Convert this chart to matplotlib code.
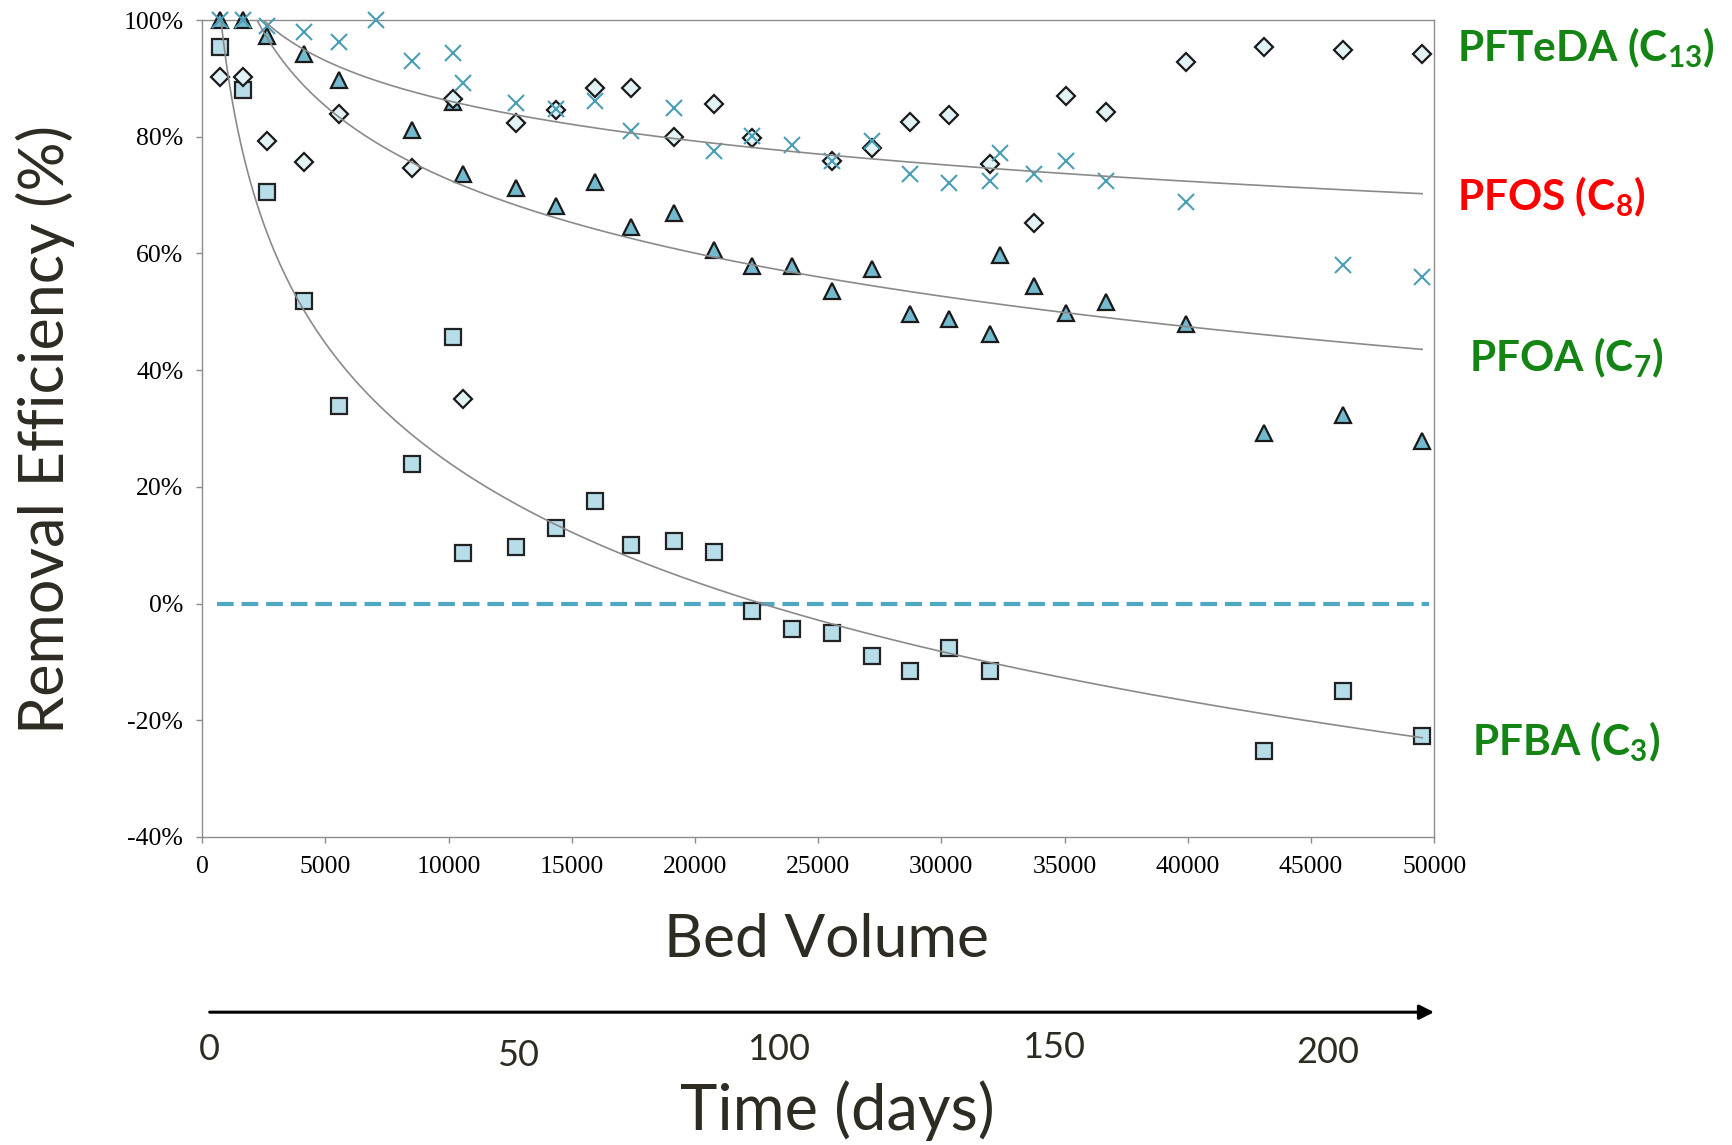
"""Removal efficiency vs bed volume for four PFAS."""

import matplotlib

matplotlib.use("Agg")
import matplotlib.pyplot as plt
import numpy as np

# sampling points (bed volumes) -- shared by most series
bed_volume = [717, 1660, 2650, 4130, 5560, 8520, 10180, 10580, 12740, 14350,
              15960, 17400, 19150, 20760, 22330, 23950, 25560, 27170, 28740,
              30310, 31970, 43090, 46280, 49510]
pfba = [95.3, 88.0, 70.6, 51.9, 33.9, 23.9, 45.6, 8.7, 9.7, 12.9,
        17.6, 10.0, 10.8, 8.9, -1.3, -4.4, -5.1, -8.9, -11.6,
        -7.6, -11.6, -25.2, -15.0, -22.7]

pfoa_bv = [717, 1660, 2650, 4130, 5560, 8520, 10180, 10580, 12740, 14350,
           15960, 17400, 19150, 20760, 22330, 23950, 25560, 27170, 28740,
           30310, 31970, 32380, 33770, 35070, 36680, 39910, 43090, 46280, 49510]
pfoa = [100, 100, 97.3, 94.1, 89.8, 81.2, 86.0, 73.7, 71.2, 68.2,
        72.3, 64.6, 66.9, 60.6, 57.8, 57.8, 53.6, 57.4, 49.6,
        48.7, 46.2, 59.7, 54.5, 49.8, 51.7, 47.9, 29.2, 32.4, 27.8]

pfteda_bv = [717, 1660, 2650, 4130, 5560, 8520, 10180, 10580, 12740, 14350,
             15960, 17400, 19150, 20760, 22330, 25560, 27170, 28740, 30310,
             31970, 33770, 35070, 36680, 39910, 43090, 46280, 49510]
pfteda = [90.2, 90.3, 79.2, 75.6, 83.9, 74.6, 86.4, 35.0, 82.4, 84.5,
          88.4, 88.3, 79.9, 85.6, 79.7, 75.8, 78.0, 82.6, 83.7,
          75.4, 65.2, 86.9, 84.3, 92.8, 95.3, 94.9, 94.1]

pfos_bv = [717, 1660, 2650, 4130, 5560, 7040, 8520, 10180, 10580, 12740,
           14350, 15960, 17400, 19150, 20760, 22330, 23950, 25560, 27170,
           28740, 30310, 31970, 32380, 33770, 35070, 36680, 39910, 46280, 49510]
pfos = [100, 100, 98.9, 97.9, 96.2, 100, 93.0, 94.3, 89.2, 85.8,
        84.8, 86.2, 80.9, 85.0, 77.5, 80.1, 78.6, 75.9, 79.2,
        73.7, 72.0, 72.5, 77.3, 73.7, 75.8, 72.5, 68.8, 58.1, 55.9]

# logarithmic trendlines y = a + b*ln(x)
trend_upper = (177.8, -9.95)
trend_pfoa = (240.3, -18.2)
trend_pfba = (295.9, -29.5)

y_ticks = [100, 80, 60, 40, 20, 0, -20, -40]
x_ticks = list(range(0, 50001, 5000))
time_days = ["0", "50", "100", "150", "200"]

text_color = "#2e2c22"
green = "#148414"

plt.rcParams["mathtext.fontset"] = "custom"
plt.rcParams["mathtext.rm"] = "Lato:bold"
plt.rcParams["mathtext.bf"] = "Lato:bold"

fig = plt.figure(figsize=(17.33, 11.45), dpi=100)
ax = fig.add_axes([0.1166, 0.269, 0.711, 0.7135])

ax.axhline(0, xmin=0.012, xmax=0.996, color="#4fa8c2", lw=3.0,
           dashes=(4, 1.9), zorder=1)

mk = dict(linestyle="none", clip_on=False)
ax.plot(bed_volume, pfba, marker="s", ms=11, mfc="#b7dde8", mec="#222222",
        mew=1.6, zorder=3, **mk)
ax.plot(pfoa_bv, pfoa, marker="^", ms=11.5, mfc="#73bace", mec="#1a1a1a",
        mew=1.6, zorder=4, **mk)
ax.plot(pfteda_bv, pfteda, marker="D", ms=9.5, mfc="#e2f3f8", mec="#1a1a1a",
        mew=1.6, zorder=5, **mk)
ax.plot(pfos_bv, pfos, marker="x", ms=11.5, mec="#4a9eb6", mew=1.5,
        zorder=6, **mk)

xs = np.linspace(bed_volume[0], bed_volume[-1], 400)
for a, b in (trend_upper, trend_pfoa, trend_pfba):
    ax.plot(xs, a + b * np.log(xs), color="#8a8a8a", lw=1.2, zorder=7)

ax.set_xlim(0, 50000)
ax.set_ylim(-40, 100)
ax.set_xticks(x_ticks)
ax.set_xticklabels([str(v) for v in x_ticks])
ax.set_yticks(y_ticks)
ax.set_yticklabels([f"{v}%" for v in y_ticks])
for s in ax.spines.values():
    s.set_color("#8c8c8c")
    s.set_linewidth(1.0)
ax.tick_params(direction="out", length=4.5, width=1.0, color="#8c8c8c",
               labelsize=18.5, pad=9)
for lab in ax.get_xticklabels() + ax.get_yticklabels():
    lab.set_fontfamily("Liberation Serif")
    lab.set_color("black")

fig.text(0.026, 0.625, "Removal Efficiency (%)", rotation=90, ha="center",
         va="center", fontsize=44, family="Lato", color=text_color)
fig.text(0.477, 0.179, "Bed Volume", ha="center", va="center", fontsize=43.5,
         family="Lato", color=text_color)
fig.text(0.483, 0.030, "Time (days)", ha="center", va="center", fontsize=45.5,
         family="Lato", color=text_color)

ax.annotate("", xy=(0.8275, 0.116), xytext=(0.121, 0.116),
            xycoords="figure fraction", textcoords="figure fraction",
            arrowprops=dict(arrowstyle="-|>", color="black", lw=2.2,
                            mutation_scale=22, shrinkA=0, shrinkB=0))
time_pos = [(0.121, 0.083), (0.299, 0.078), (0.4495, 0.083),
            (0.6077, 0.085), (0.766, 0.081)]
for lab, (px, py) in zip(time_days, time_pos):
    fig.text(px, py, lab, ha="center", va="center", fontsize=26,
             family="Lato", color=text_color)

labels = [
    (r"PFTeDA (C$_{13}$)", green, 0.915, 0.958),
    (r"PFOS (C$_{8}$)", "#ff0000", 0.895, 0.828),
    (r"PFOA (C$_{7}$)", green, 0.904, 0.688),
    (r"PFBA (C$_{3}$)", green, 0.904, 0.352),
]
for txt, col, px, py in labels:
    fig.text(px, py, txt, ha="center", va="center", fontsize=30.5,
             family="Lato", fontweight="bold", color=col)

fig.savefig("out.png", dpi=100)
